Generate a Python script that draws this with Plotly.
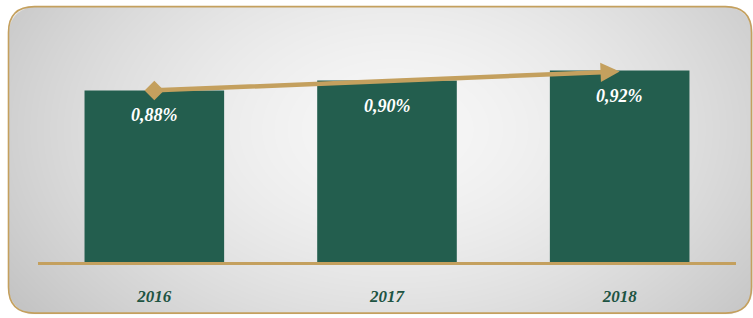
import base64
import struct
import zlib

import numpy as np
import plotly.graph_objects as go

# ---- data ----
years = ["2016", "2017", "2018"]
values = [0.88, 0.90, 0.92]
value_labels = ["0,88%", "0,90%", "0,92%"]

# ---- layout constants (pixels) ----
FIG_W, FIG_H = 753, 318
ML, MR, MT, MB = 38, 17, 20, 54
PW = FIG_W - ML - MR
PH = FIG_H - MT - MB

GOLD = "#C4A05E"
GREEN = "#235E4E"
TXT_GREEN = "#1E5443"


def px_x(px):
    return (px - ML) / PW


def px_y(py):
    return (FIG_H - MB - py) / PH


# ---- background panel (gradient with rounded corners) as PNG ----
BX0, BY0, BX1, BY1, RAD = 8.5, 6.5, 751.5, 315.5, 26
W, H = int(BX1 - BX0) + 1, int(BY1 - BY0) + 1
xs = np.arange(W) + 0.5
ys = np.arange(H) + 0.5
X, Y = np.meshgrid(xs, ys)
cx, cy = W * 0.52, H * 0.40
r = np.sqrt(((X - cx) / (W * 0.5)) ** 2 + ((Y - cy) / (H * 0.80)) ** 2)
c = np.clip(247 - 36 * r ** 1.6, 195, 250)
hx, hy = W / 2, H / 2
qx = np.maximum(np.abs(X - hx) - (hx - RAD), 0)
qy = np.maximum(np.abs(Y - hy) - (hy - RAD), 0)
d = np.sqrt(qx ** 2 + qy ** 2) - RAD
alpha = np.clip(0.5 - d, 0, 1) * 255
img = np.zeros((H, W, 4), dtype=np.uint8)
img[..., 0] = c
img[..., 1] = c
img[..., 2] = c
img[..., 3] = alpha


def png_bytes(arr):
    h, w, _ = arr.shape
    raw = b"".join(b"\x00" + arr[i].tobytes() for i in range(h))

    def chunk(tag, data):
        return (struct.pack(">I", len(data)) + tag + data
                + struct.pack(">I", zlib.crc32(tag + data) & 0xFFFFFFFF))

    return (b"\x89PNG\r\n\x1a\n"
            + chunk(b"IHDR", struct.pack(">IIBBBBB", w, h, 8, 6, 0, 0, 0))
            + chunk(b"IDAT", zlib.compress(raw, 9))
            + chunk(b"IEND", b""))


src = "data:image/png;base64," + base64.b64encode(png_bytes(img)).decode()


# rounded border path in paper coords
def P(x, y):
    return f"{px_x(x):.5f},{px_y(y):.5f}"


path = (f"M {P(BX0 + RAD, BY0)} L {P(BX1 - RAD, BY0)} Q {P(BX1, BY0)} {P(BX1, BY0 + RAD)} "
        f"L {P(BX1, BY1 - RAD)} Q {P(BX1, BY1)} {P(BX1 - RAD, BY1)} "
        f"L {P(BX0 + RAD, BY1)} Q {P(BX0, BY1)} {P(BX0, BY1 - RAD)} "
        f"L {P(BX0, BY0 + RAD)} Q {P(BX0, BY0)} {P(BX0 + RAD, BY0)} Z")

xidx = list(range(len(years)))

fig = go.Figure()
fig.add_trace(go.Bar(
    x=xidx, y=values, width=0.6,
    marker=dict(color=GREEN, line=dict(width=0)),
    hoverinfo="skip",
))
# diamond at trend start
fig.add_trace(go.Scatter(
    x=[xidx[0]], y=[values[0]], mode="markers",
    marker=dict(symbol="diamond", size=15, color=GOLD),
    hoverinfo="skip",
))

annotations = []
for i, (v, t) in enumerate(zip(values, value_labels)):
    annotations.append(dict(
        x=i, y=v, xref="x", yref="y", text=t, showarrow=False,
        yshift=-25,
        font=dict(family="Liberation Serif", size=18, color="white",
                  weight="bold", style="italic"),
    ))
# trend arrow
annotations.append(dict(
    x=xidx[-1], y=values[-1] - 0.002, xref="x", yref="y",
    ax=xidx[0], ay=values[0], axref="x", ayref="y",
    text="", showarrow=True, arrowhead=2, arrowsize=0.85,
    arrowwidth=4.5, arrowcolor=GOLD, standoff=0, startstandoff=0,
))

fig.update_layout(
    width=FIG_W, height=FIG_H,
    margin=dict(l=ML, r=MR, t=MT, b=MB, pad=0),
    paper_bgcolor="white", plot_bgcolor="rgba(0,0,0,0)",
    showlegend=False,
    annotations=annotations,
    images=[dict(source=src, xref="paper", yref="paper",
                 x=px_x(BX0), y=px_y(BY0), sizex=W / PW, sizey=H / PH,
                 xanchor="left", yanchor="top", sizing="stretch",
                 layer="below")],
    shapes=[dict(type="path", path=path, xref="paper", yref="paper",
                 line=dict(color=GOLD, width=1.6), fillcolor="rgba(0,0,0,0)",
                 layer="above")],
    xaxis=dict(
        range=[-0.5, len(years) - 0.5], tickvals=xidx, ticktext=years,
        showgrid=False, zeroline=False, showline=True, linecolor=GOLD,
        linewidth=3, ticks="", ticklabelstandoff=17,
        tickfont=dict(family="Liberation Serif", size=17, color=TXT_GREEN,
                      weight="bold", style="italic"),
    ),
    yaxis=dict(range=[0.534, 0.534 + PH / 500.0], visible=False,
               showgrid=False, zeroline=False),
)

fig.write_html(
    "out.html",
    config={"displayModeBar": False, "staticPlot": True},
    post_script="document.body.style.margin='0';document.body.style.padding='0';"
                "document.body.style.overflow='hidden';",
)
